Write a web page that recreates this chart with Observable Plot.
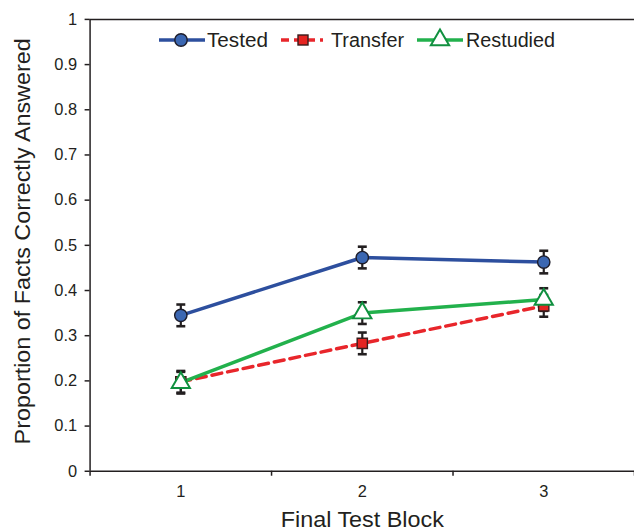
<!DOCTYPE html>
<html><head><meta charset="utf-8">
<script src="https://cdn.jsdelivr.net/npm/d3@7"></script>
<script src="https://cdn.jsdelivr.net/npm/@observablehq/plot@0.6"></script>
<style>
body{margin:0;overflow:hidden;background:#fff;font-family:"Liberation Sans",Arial,sans-serif}
#wrap{position:relative;width:634px;height:531px;overflow:hidden}
#legend{position:absolute;left:0;top:0}
</style>
</head><body><div id="wrap"></div>
<script>
const blocks = [1, 2, 3];
const seriesNames = ["Tested", "Transfer", "Restudied"];
const tested = [0.345, 0.473, 0.463];
const transfer = [0.198, 0.283, 0.366];
const restudied = [0.196, 0.350, 0.380];
const testedErr = [0.024, 0.024, 0.025];
const transferErr = [0.024, 0.024, 0.024];
const restudiedErr = [0.024, 0.024, 0.025];
const yTicks = [0, 0.1, 0.2, 0.3, 0.4, 0.5, 0.6, 0.7, 0.8, 0.9, 1];
const yTickLabels = ["0", "0.1", "0.2", "0.3", "0.4", "0.5", "0.6", "0.7", "0.8", "0.9", "1"];
const xBoundaries = [0.5, 1.5, 2.5, 3.5];
const xLabels = ["1", "2", "3"];
const xTitle = "Final Test Block";
const yTitle = "Proportion of Facts Correctly Answered";

const colors = {Tested: "#2d4f9e", Transfer: "#e8262b", Restudied: "#22b14c"};
const vals = {Tested: tested, Transfer: transfer, Restudied: restudied};
const errs = {Tested: testedErr, Transfer: transferErr, Restudied: restudiedErr};
const data = seriesNames.flatMap(s => blocks.map((b, i) => ({series: s, block: b, value: vals[s][i], err: errs[s][i]})));
const bySeries = s => data.filter(d => d.series === s);

const cap = {draw(ctx) { ctx.moveTo(-4.5, 0); ctx.lineTo(4.5, 0); }};
const ink = "#231f20";
const font = '"Liberation Sans", Arial, sans-serif';

const marks = [
  Plot.ruleY([1], {stroke: ink, strokeWidth: 1.5}),
  // error bars
  Plot.ruleX(data, {x: "block", y1: d => d.value - d.err, y2: d => d.value + d.err, stroke: ink, strokeWidth: 2.2}),
  Plot.dot(data, {x: "block", y: d => d.value - d.err, symbol: cap, stroke: ink, strokeWidth: 2.6}),
  Plot.dot(data, {x: "block", y: d => d.value + d.err, symbol: cap, stroke: ink, strokeWidth: 2.6}),
  // lines
  Plot.line(bySeries("Tested"), {x: "block", y: "value", stroke: colors.Tested, strokeWidth: 3.5}),
  Plot.line(bySeries("Transfer"), {x: "block", y: "value", stroke: colors.Transfer, strokeWidth: 3.5, strokeDasharray: "10,6"}),
  Plot.line(bySeries("Restudied"), {x: "block", y: "value", stroke: colors.Restudied, strokeWidth: 3.5}),
  // markers
  Plot.dot(bySeries("Tested"), {x: "block", y: "value", r: 6.2, fill: "#3b67b2", stroke: "#1d1d2b", strokeWidth: 1.4}),
  Plot.dot(bySeries("Transfer"), {x: "block", y: "value", symbol: "square", r: 5.8, fill: "#e52421", stroke: "#3a1c1c", strokeWidth: 1.4}),
  Plot.dot(bySeries("Restudied"), {x: "block", y: "value", symbol: "triangle", r: 6.8, fill: "white", stroke: "#10903f", strokeWidth: 2}),
  // axes
  Plot.axisY({ticks: yTicks, tickFormat: (d, i) => yTickLabels[i], tickSize: 5, tickPadding: 8, fontSize: 16.5, color: ink, label: null, strokeWidth: 1.5}),
  Plot.axisX({ticks: xBoundaries, tickFormat: () => "", tickSize: 5, stroke: ink, strokeWidth: 1.5, label: null}),
  Plot.axisX({ticks: blocks, tickFormat: (d, i) => xLabels[i], tickSize: 0, tickPadding: 14, fontSize: 16.5, color: ink, label: null}),
  Plot.ruleX([0.5], {stroke: ink, strokeWidth: 1.5}),
  Plot.ruleY([0], {stroke: ink, strokeWidth: 1.5}),
  Plot.text([xTitle], {frameAnchor: "bottom", dy: 49, fontSize: 22.5, fill: ink, lineAnchor: "middle", textAnchor: "middle"}),
  Plot.text([yTitle], {frameAnchor: "left", dx: -68, dy: -4, rotate: -90, fontSize: 23, fill: ink, textAnchor: "middle", lineAnchor: "middle"})
];

const chart = Plot.plot({
  width: 637, height: 531,
  marginLeft: 90, marginRight: 0, marginTop: 19, marginBottom: 58,
  style: {fontFamily: font, background: "white", overflow: "visible"},
  x: {type: "linear", domain: [0.5, 3.5]},
  y: {domain: [0, 1]},
  marks
});
const wrap = document.getElementById("wrap");
wrap.appendChild(chart);

const fitText = (root, str, len) => d3.select(root).selectAll("text")
  .filter(function() { return this.textContent === str; })
  .attr("textLength", len).attr("lengthAdjust", "spacingAndGlyphs");
fitText(chart, yTitle, 408);
fitText(chart, xTitle, 164);

// legend overlay
const lg = d3.select(wrap).append("svg").attr("id", "legend").attr("width", 634).attr("height", 70)
  .style("font-family", font);
const items = [
  {name: "Tested", x1: 159, x2: 205, mx: 181, tx: 207, len: 61},
  {name: "Transfer", x1: 281, x2: 323, mx: 303, tx: 331, len: 73},
  {name: "Restudied", x1: 417, x2: 463, mx: 440, tx: 466, len: 89}
];
const ly = 40;
items.forEach(it => {
  const g = lg.append("g");
  g.append("line").attr("x1", it.x1).attr("x2", it.x2).attr("y1", ly).attr("y2", ly)
    .attr("stroke", colors[it.name]).attr("stroke-width", 3.5)
    .attr("stroke-dasharray", it.name === "Transfer" ? "8,5" : null);
  if (it.name === "Tested") {
    g.append("circle").attr("cx", it.mx).attr("cy", ly).attr("r", 6.2).attr("fill", "#3b67b2").attr("stroke", "#1d1d2b").attr("stroke-width", 1.4);
  } else if (it.name === "Transfer") {
    g.append("rect").attr("x", it.mx - 5).attr("y", ly - 5).attr("width", 10).attr("height", 10).attr("fill", "#e52421").attr("stroke", "#3a1c1c").attr("stroke-width", 1.4);
  } else {
    g.append("path").attr("transform", `translate(${it.mx},${ly})`).attr("d", d3.symbol(d3.symbolTriangle, Math.PI * 6.8 * 6.8)()).attr("fill", "white").attr("stroke", "#10903f").attr("stroke-width", 2);
  }
  g.append("text").attr("x", it.tx).attr("y", ly).attr("dy", "0.35em").attr("font-size", 19.5).attr("fill", ink)
    .attr("textLength", it.len).attr("lengthAdjust", "spacingAndGlyphs").text(it.name);
});
</script>
</body></html>
